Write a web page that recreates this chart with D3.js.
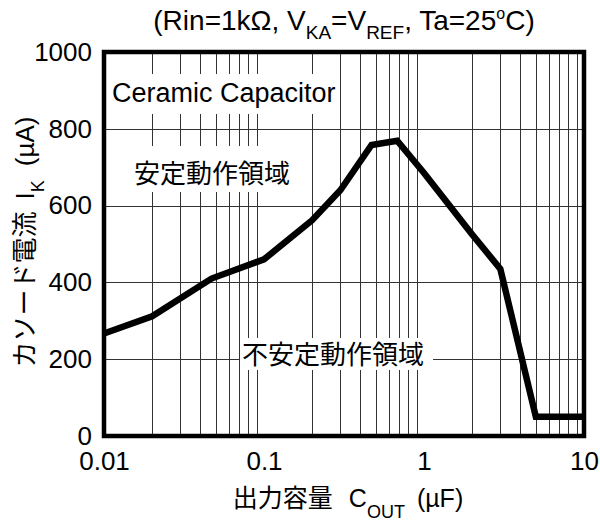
<!DOCTYPE html>
<html>
<head>
<meta charset="utf-8">
<script src="https://cdn.jsdelivr.net/npm/d3@7"></script>
<style>
  html, body { margin: 0; padding: 0; background: #fff; }
  svg { display: block; }
  text { font-family: "Liberation Sans", Arial, sans-serif; fill: #000; }
  .jp { font-family: "Noto Sans CJK JP", "Liberation Sans", sans-serif; }
</style>
</head>
<body>
<svg id="chart" width="600" height="525"></svg>
<script>
// Output capacitance (µF) and the cathode current boundary (µA) between stable/unstable regions
const capacitance = [0.01, 0.02, 0.047, 0.1, 0.2, 0.3, 0.47, 0.68, 1, 2, 3, 5, 10];
const cathodeCurrent = [267, 312, 410, 460, 562, 640, 758, 769, 685, 525, 435, 50, 50];

const xTickValues = [0.01, 0.1, 1, 10];
const xTickLabels = ["0.01", "0.1", "1", "10"];
const yTickValues = [0, 200, 400, 600, 800, 1000];
const yTickLabels = ["0", "200", "400", "600", "800", "1000"];

const svg = d3.select("#chart");
const margin = { left: 104, right: 16, top: 52, bottom: 89 };
const W = 600, H = 525;

const x = d3.scaleLog().domain([0.01, 10]).range([margin.left, W - margin.right]);
const y = d3.scaleLinear().domain([0, 1000]).range([H - margin.bottom, margin.top]);

// vertical grid on every minor decade step
const minorTicks = x.ticks().filter(v => {
  const m = v / Math.pow(10, Math.floor(Math.log10(v) + 1e-9));
  return Math.abs(m - 1) > 1e-6;
});
const grid = svg.append("g").attr("shape-rendering", "crispEdges");
grid.selectAll("line.v").data(minorTicks).join("line")
  .attr("x1", d => Math.round(x(d)) + 0.5).attr("x2", d => Math.round(x(d)) + 0.5)
  .attr("y1", y(1000)).attr("y2", y(0))
  .attr("stroke", "#333").attr("stroke-width", 1);
grid.selectAll("line.h").data(yTickValues.slice(1, -1)).join("line")
  .attr("x1", x(0.01)).attr("x2", x(10))
  .attr("y1", d => Math.round(y(d)) + 0.5).attr("y2", d => Math.round(y(d)) + 0.5)
  .attr("stroke", "#333").attr("stroke-width", 1);

// region labels on white backing
function boxedLabel(txt, tx, ty, size, cls, box) {
  svg.append("rect").attr("x", box[0]).attr("y", box[1])
    .attr("width", box[2] - box[0]).attr("height", box[3] - box[1]).attr("fill", "#fff");
  svg.append("text").attr("class", cls).attr("x", tx).attr("y", ty)
    .attr("font-size", size).text(txt);
}
boxedLabel("Ceramic Capacitor", 112, 102, 27, "", [106, 74, 337, 114]);
boxedLabel("安定動作領域", 134, 183, 26, "jp", [106, 146, 300, 192]);
boxedLabel("不安定動作領域", 242, 364, 26, "jp", [240, 338, 433, 370]);

// stability boundary curve
const line = d3.line().x((d, i) => x(capacitance[i])).y(d => y(d));
svg.append("path").datum(cathodeCurrent)
  .attr("d", line)
  .attr("fill", "none").attr("stroke", "#000")
  .attr("stroke-width", 6.5).attr("stroke-linejoin", "miter");

// plot frame
svg.append("rect").attr("x", x(0.01)).attr("y", y(1000))
  .attr("width", x(10) - x(0.01)).attr("height", y(0) - y(1000))
  .attr("fill", "none").attr("stroke", "#000").attr("stroke-width", 4.5);

// axes (labels only, the frame supplies the lines)
const yAxis = d3.axisLeft(y).tickValues(yTickValues)
  .tickFormat((d, i) => yTickLabels[i]).tickSize(0).tickPadding(12);
const gy = svg.append("g").attr("transform", `translate(${x(0.01)},0)`).call(yAxis);
gy.select(".domain").remove();
gy.selectAll("text").attr("font-size", 26).attr("font-family", "Liberation Sans, Arial, sans-serif");

const xAxis = d3.axisBottom(x).tickValues(xTickValues).tickFormat((d, i) => xTickLabels[i])
  .tickSize(0).tickPadding(16);
const gx = svg.append("g").attr("transform", `translate(0,${y(0)})`).call(xAxis);
gx.select(".domain").remove();
gx.selectAll("text").attr("font-size", 26).attr("font-family", "Liberation Sans, Arial, sans-serif");

// title
const title = svg.append("text").attr("x", 344).attr("y", 30)
  .attr("text-anchor", "middle").attr("font-size", 28);
title.append("tspan").text("(Rin=1kΩ, V");
title.append("tspan").attr("font-size", 19).attr("dy", 9).text("KA");
title.append("tspan").attr("dy", -9).text("=V");
title.append("tspan").attr("font-size", 19).attr("dy", 9).text("REF");
title.append("tspan").attr("dy", -9).text(", Ta=25");
title.append("tspan").attr("font-size", 16).attr("dy", -11).text("o");
title.append("tspan").attr("dy", 11).text("C)");

// x axis title
const xt = svg.append("text").attr("x", 348).attr("y", 507)
  .attr("text-anchor", "middle").attr("font-size", 25);
xt.append("tspan").attr("class", "jp").text("出力容量");
xt.append("tspan").attr("dx", 16).text("C");
xt.append("tspan").attr("font-size", 18).attr("dy", 11).text("OUT");
xt.append("tspan").attr("dy", -11).attr("dx", 12).text("(µF)");

// y axis title
const yt = svg.append("text")
  .attr("transform", "translate(34,242) rotate(-90)")
  .attr("text-anchor", "middle").attr("font-size", 26);
yt.append("tspan").attr("class", "jp").text("カソード電流");
yt.append("tspan").attr("dx", 12).text("I");
yt.append("tspan").attr("font-size", 18).attr("dy", 10).text("K");
yt.append("tspan").attr("dy", -10).attr("dx", 14).text("(µA)");
</script>
</body>
</html>
